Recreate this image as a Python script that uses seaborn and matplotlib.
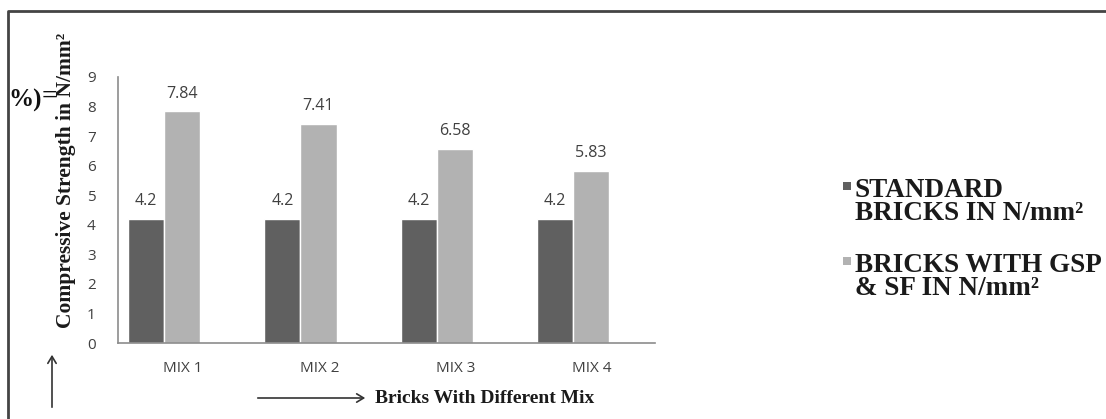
import matplotlib
matplotlib.use("Agg")
import matplotlib.pyplot as plt
import matplotlib.transforms as mtransforms
from matplotlib.lines import Line2D
from matplotlib.patches import Rectangle, FancyArrowPatch
import seaborn as sns
import pandas as pd

# Compressive strength of bricks per mix
mixes = ["MIX 1", "MIX 2", "MIX 3", "MIX 4"]
standard = [4.2, 4.2, 4.2, 4.2]
gsp_sf = [7.84, 7.41, 6.58, 5.83]
series_names = ["STANDARD\nBRICKS IN N/mm²", "BRICKS WITH GSP\n& SF IN N/mm²"]
y_ticks = list(range(0, 10))

df = pd.DataFrame({
    "mix": mixes * 2,
    "strength": standard + gsp_sf,
    "type": [series_names[0]] * len(mixes) + [series_names[1]] * len(mixes),
})

sns.set_theme(style="white")
plt.rcParams["font.family"] = ["Open Sans", "DejaVu Sans"]

W, H = 1106, 419
fig = plt.figure(figsize=(W / 100, H / 100), dpi=100)
fig.patch.set_facecolor("white")


def fx(px):
    return px / W


def fy(py):
    return 1 - py / H


left, right, top, bottom = 118, 655, 77, 343
ax = fig.add_axes([fx(left), fy(bottom), fx(right - left), fy(top) - fy(bottom)])

palette = ["#606060", "#b2b2b2"]
sns.barplot(data=df, x="mix", y="strength", hue="type", palette=palette,
            width=0.53, gap=0, saturation=1, ax=ax, legend=False)

for c in ax.containers:
    ax.bar_label(c, fmt="%g", padding=7, fontsize=11.5, color="#404040")

ax.set_ylim(0, 9)
# bars sit left of the category centre, close to the value axis
ax.set_xlim(-0.3375, 3.6)
ax.set_yticks(y_ticks)
ax.set_xlabel("")
ax.set_ylabel("")
ax.tick_params(axis="y", length=0, pad=16, labelsize=11, labelcolor="#404040")
ax.tick_params(axis="x", length=0, pad=13, labelsize=11, labelcolor="#404040")
shift = mtransforms.ScaledTranslation(19 / 100, 0, fig.dpi_scale_trans)
for lab in ax.get_xticklabels():
    lab.set_transform(lab.get_transform() + shift)
for s in ["top", "right"]:
    ax.spines[s].set_visible(False)
for s in ["left", "bottom"]:
    ax.spines[s].set_color("#8c8c8c")
    ax.spines[s].set_linewidth(1.2)
ax.grid(False)

serif = {"family": "Liberation Serif", "weight": "bold"}

# legend on the right: square key beside the first line of each entry
legend_tops = [178, 253]
for name, color, ytop in zip(series_names, palette, legend_tops):
    fig.add_artist(Rectangle((fx(843), fy(ytop + 12)), fx(8), fy(0) - fy(8),
                             transform=fig.transFigure, color=color, lw=0))
    fig.text(fx(855), fy(ytop), name, ha="left", va="top", fontsize=19.5,
             color="#1a1a1a", linespacing=0.92, transform=fig.transFigure,
             **serif)

# axis titles with arrows
fig.text(fx(66), fy(180), "Compressive Strength in N/mm²", rotation=90,
         ha="center", va="center", fontsize=15.5, color="#1a1a1a", **serif)
fig.text(fx(375), fy(398), "Bricks With Different Mix", ha="left", va="center",
         fontsize=14, color="#1a1a1a", **serif)
fig.add_artist(FancyArrowPatch(
    (fx(52), fy(410)), (fx(52), fy(352)), transform=fig.transFigure,
    arrowstyle="->,head_length=5,head_width=3", color="#333333", lw=1.2))
fig.add_artist(FancyArrowPatch(
    (fx(255), fy(398)), (fx(368), fy(398)), transform=fig.transFigure,
    arrowstyle="->,head_length=5,head_width=3", color="#333333", lw=1.2))

# stray glyphs at the left edge
fig.text(fx(8), fy(100), "%)", ha="left", va="center", fontsize=18, color="#111111", **serif)
fig.text(fx(42), fy(97), "=", ha="left", va="center", fontsize=20, color="#111111", **serif)

# outer frame (left and top edges)
fig.add_artist(Line2D([fx(8), fx(8), 1.01], [-0.01, fy(11), fy(11)],
                      transform=fig.transFigure, color="#444444", lw=2))

fig.savefig("out.png", dpi=100, facecolor="white")
